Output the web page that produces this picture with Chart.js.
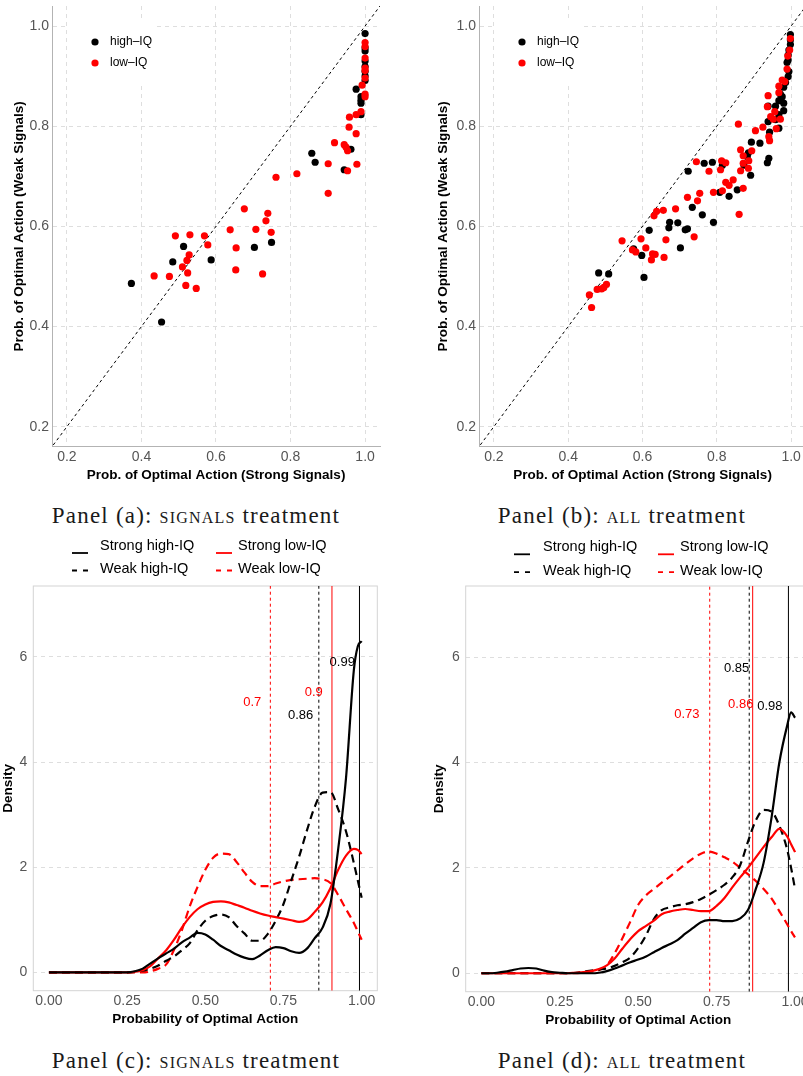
<!DOCTYPE html>
<html>
<head>
<meta charset="utf-8">
<title>Probability of optimal action</title>
<script src="https://cdn.jsdelivr.net/npm/chart.js@4.4.1/dist/chart.umd.min.js"></script>
<style>
  html, body { margin: 0; padding: 0; background: #fff; }
  body { width: 803px; height: 1076px; position: relative; overflow: hidden; }
  .panel { position: absolute; }
  .panel canvas { display: block; }
  .caption { position: absolute; font-family: "Liberation Serif", serif; font-size: 23px; line-height: 23px;
             color: #1a1a1a; white-space: nowrap; transform: translateX(-50%); letter-spacing: 1.2px; }
  .sc { font-variant: small-caps; }
</style>
</head>
<body>
<div class="panel" style="left:0;top:0"><canvas id="panelA" width="395" height="492"></canvas></div>
<div class="panel" style="left:400px;top:0"><canvas id="panelB" width="410" height="492"></canvas></div>
<div class="panel" style="left:0;top:530px"><canvas id="panelC" width="395" height="505"></canvas></div>
<div class="panel" style="left:400px;top:530px"><canvas id="panelD" width="415" height="506"></canvas></div>
<div class="caption" style="left:196px;top:504px">Panel (a): <span class="sc">signals</span> treatment</div>
<div class="caption" style="left:622px;top:504px">Panel (b): <span class="sc">all</span> treatment</div>
<div class="caption" style="left:196px;top:1049px">Panel (c): <span class="sc">signals</span> treatment</div>
<div class="caption" style="left:622px;top:1049px">Panel (d): <span class="sc">all</span> treatment</div>

<script>
// ---- scatter data: [strong signals, weak signals] per subject ----
const sigHighIQ = [
  [1.0,0.985],[1.0,0.956],[1.0,0.950],[1.0,0.930],[1.0,0.919],[1.0,0.909],[1.0,0.900],[1.0,0.891],
  [0.976,0.874],[0.989,0.859],[0.989,0.852],[0.989,0.846],[0.989,0.823],[0.962,0.754],[0.857,0.746],
  [0.866,0.728],[0.944,0.713],[0.513,0.560],[0.703,0.558],[0.749,0.568],[0.484,0.529],[0.587,0.533],
  [0.373,0.486],[0.454,0.409]
];
const sigLowIQ = [
  [1.0,0.967],[1.0,0.959],[1.0,0.936],[1.0,0.916],[1.0,0.911],[1.0,0.896],[0.992,0.882],[1.0,0.864],
  [1.0,0.859],[0.989,0.829],[0.976,0.823],[0.958,0.818],[0.957,0.798],[0.976,0.785],[0.918,0.767],
  [0.944,0.763],[0.949,0.758],[0.953,0.751],[0.901,0.725],[0.978,0.724],[0.953,0.711],[0.817,0.705],
  [0.761,0.698],[0.901,0.666],[0.676,0.635],[0.739,0.626],[0.734,0.611],[0.638,0.593],[0.707,0.594],
  [0.748,0.588],[0.491,0.581],[0.530,0.583],[0.569,0.581],[0.578,0.563],[0.654,0.557],[0.528,0.543],
  [0.522,0.532],[0.510,0.519],[0.524,0.507],[0.434,0.501],[0.475,0.500],[0.519,0.482],[0.547,0.476],
  [0.653,0.513],[0.725,0.505]
];
const allHighIQ = [
  [0.998,0.983],[0.998,0.972],[0.998,0.963],[0.994,0.952],[0.992,0.942],[0.992,0.932],[0.989,0.927],
  [0.994,0.909],[0.992,0.899],[0.985,0.887],[0.980,0.878],[0.971,0.864],[0.976,0.859],[0.967,0.851],
  [0.980,0.846],[0.958,0.840],[0.938,0.840],[0.980,0.831],[0.967,0.823],[0.938,0.809],[0.958,0.813],
  [0.967,0.796],[0.942,0.788],[0.916,0.766],[0.893,0.768],[0.885,0.747],[0.882,0.739],[0.940,0.736],
  [0.936,0.727],[0.873,0.722],[0.891,0.702],[0.766,0.726],[0.788,0.728],[0.815,0.722],[0.723,0.710],
  [0.808,0.668],[0.833,0.660],[0.855,0.673],[0.734,0.638],[0.761,0.623],[0.791,0.608],[0.673,0.608],
  [0.671,0.597],[0.618,0.592],[0.695,0.607],[0.715,0.593],[0.721,0.595],[0.702,0.557],[0.576,0.555],
  [0.598,0.542],[0.604,0.498],[0.482,0.507],[0.509,0.505]
];
const allLowIQ = [
  [0.998,0.975],[0.996,0.952],[0.991,0.940],[0.989,0.914],[0.976,0.892],[0.983,0.889],[0.967,0.880],
  [0.938,0.861],[0.967,0.867],[0.936,0.839],[0.945,0.819],[0.956,0.829],[0.971,0.814],[0.952,0.814],
  [0.960,0.795],[0.858,0.804],[0.924,0.798],[0.904,0.791],[0.940,0.779],[0.942,0.771],[0.894,0.751],
  [0.864,0.753],[0.871,0.741],[0.886,0.731],[0.813,0.731],[0.824,0.727],[0.871,0.726],[0.745,0.729],
  [0.779,0.710],[0.810,0.713],[0.864,0.711],[0.885,0.716],[0.824,0.688],[0.844,0.693],[0.833,0.682],
  [0.815,0.671],[0.791,0.668],[0.871,0.676],[0.754,0.666],[0.721,0.658],[0.748,0.651],[0.860,0.624],
  [0.689,0.635],[0.656,0.632],[0.638,0.630],[0.631,0.621],[0.739,0.579],[0.663,0.573],[0.596,0.575],
  [0.545,0.571],[0.609,0.557],[0.573,0.553],[0.582,0.549],[0.627,0.545],[0.634,0.544],[0.624,0.533],
  [0.658,0.538],[0.457,0.463],[0.463,0.438],[0.478,0.474],[0.490,0.475],[0.496,0.478],[0.503,0.484]
];
const diagLine = [0, 1.2];   // 45-degree reference line
const scatterTicks = [0.2, 0.4, 0.6, 0.8, 1.0];

// ---- density data ----
const densX = [0,0.025,0.05,0.075,0.1,0.125,0.15,0.175,0.2,0.225,0.25,0.275,0.3,0.325,0.35,0.375,0.4,0.425,
  0.45,0.475,0.5,0.525,0.55,0.575,0.6,0.625,0.65,0.675,0.7,0.725,0.75,0.775,0.8,0.825,0.85,0.875,0.9,0.925,
  0.95,0.975,0.9875,1.0];
const sigStrongHigh = [0,0,0,0,0,0,0,0,0,0,0, 0.02,0.07,0.17,0.27,0.36,0.45,0.57,0.66,0.75,0.72,0.62,0.5,0.42,
  0.34,0.28,0.25,0.32,0.42,0.48,0.46,0.4,0.37,0.45,0.65,0.85,1.3,2.35,3.7,5.75,6.2,6.3];
const sigWeakHigh = [0,0,0,0,0,0,0,0,0,0,0, 0.01,0.03,0.07,0.13,0.22,0.3,0.42,0.55,0.8,0.98,1.07,1.1,1.05,
  0.88,0.74,0.6,0.6,0.73,0.98,1.3,1.75,2.2,2.7,3.15,3.42,3.43,3.1,2.68,2.08,1.75,1.42];
const sigStrongLow = [0,0,0,0,0,0,0,0,0,0,0, 0.01,0.04,0.12,0.27,0.42,0.62,0.85,1.05,1.2,1.29,1.34,1.35,1.33,
  1.28,1.23,1.17,1.12,1.08,1.05,1.02,0.99,0.96,1.0,1.15,1.33,1.6,1.95,2.22,2.35,2.33,2.25];
const sigWeakLow = [0,0,0,0,0,0,0,0,0,0,0, 0,0,0.02,0.07,0.15,0.43,0.8,1.25,1.62,1.95,2.18,2.26,2.25,
  2.1,1.9,1.72,1.64,1.64,1.69,1.73,1.76,1.77,1.78,1.79,1.77,1.7,1.47,1.2,0.94,0.78,0.62];
const allStrongHigh = [0,0,0.01,0.03,0.06,0.09,0.1,0.09,0.05,0.02,0.01, 0,0,0,0,0.01,0.04,0.09,0.15,0.21,0.26,
  0.32,0.4,0.48,0.55,0.63,0.75,0.86,0.97,1.01,1.01,0.99,0.99,1.04,1.2,1.6,2.1,2.95,4.0,4.7,4.95,4.85];
const allWeakHigh = [0,0,0,0,0,0,0,0,0,0,0, 0,0.01,0.03,0.05,0.07,0.09,0.14,0.21,0.3,0.48,0.72,1.03,1.2,
  1.25,1.29,1.31,1.35,1.41,1.49,1.58,1.68,1.82,2.05,2.5,2.9,3.1,3.07,2.8,2.35,2.0,1.6];
const allStrongLow = [0,0,0,0,0,0,0,0,0,0,0, 0,0.01,0.02,0.04,0.08,0.15,0.28,0.47,0.65,0.8,0.9,1.0,1.12,
  1.17,1.2,1.22,1.2,1.18,1.18,1.28,1.43,1.63,1.82,2.0,2.2,2.4,2.58,2.74,2.6,2.45,2.3];
const allWeakLow = [0,0,0,0,0,0,0,0,0,0,0, 0,0,0.01,0.03,0.06,0.15,0.38,0.67,0.98,1.3,1.48,1.6,1.72,
  1.83,1.95,2.07,2.18,2.27,2.31,2.27,2.2,2.12,2.0,1.88,1.75,1.6,1.42,1.18,0.93,0.8,0.68];

// means, order: weak low, weak high, strong low, strong high
const sigMeans = [0.708, 0.863, 0.905, 0.993];
const sigMeanText = ['0.7', '0.86', '0.9', '0.99'];
const sigMeanLabelX = [0.650, 0.805, 0.847, 0.938];
const sigMeanLabelY = [5.13, 4.89, 5.32, 5.90];
const allMeans = [0.728, 0.854, 0.865, 0.979];
const allMeanText = ['0.73', '0.85', '0.86', '0.98'];
const allMeanLabelX = [0.655, 0.814, 0.827, 0.920];
const allMeanLabelY = [4.92, 5.79, 5.11, 5.06];

const densXTicks = [0, 0.25, 0.5, 0.75, 1.0];
const densYTicks = [0, 2, 4, 6];

const RED = '#ff0000';
const BLACK = '#000000';
const GRID = '#dedede';
const TITLE_FONT = { size: 13.5, weight: 'bold' };

Chart.defaults.font.family = '"Liberation Sans", Arial, sans-serif';
Chart.defaults.color = '#4d4d4d';

function fixedTicks(vals) {
  return scale => { scale.ticks = vals.map(v => ({ value: v })); };
}
function toPoints(pairs) {
  return pairs.map(p => ({ x: p[0], y: p[1] }));
}
// force the scale box size and drop the label overhang chart.js reserves
function fixedHeight(h) {
  return s => { s.height = h; s.paddingLeft = 0; s.paddingRight = 0; };
}
function fixedWidth(w) {
  return s => { s.width = w; s.paddingTop = 0; s.paddingBottom = 0; };
}

// white legend box with dots in the scatter panels
const scatterLegend = {
  id: 'scatterLegend',
  beforeDatasetsDraw(chart) {
    const { ctx, chartArea: a } = chart;
    ctx.save();
    ctx.fillStyle = '#fff';
    ctx.fillRect(a.left + 15, a.top + 12, 90, 64);
    ctx.restore();
  },
  afterDatasetsDraw(chart, args, opts) {
    const { ctx, chartArea: a } = chart;
    ctx.save();
    opts.items.forEach((it, i) => {
      const x = a.left + 43, y = a.top + 36 + i * 21;
      ctx.beginPath();
      ctx.arc(x, y, 3.6, 0, Math.PI * 2);
      ctx.fillStyle = it.color;
      ctx.fill();
      ctx.fillStyle = '#000';
      ctx.font = '12px "Liberation Sans", Arial, sans-serif';
      ctx.textBaseline = 'middle';
      ctx.textAlign = 'left';
      ctx.fillText(it.text, x + 15, y);
    });
    ctx.restore();
  }
};

function scatterChart(id, high, low, pad, yWidth) {
  return new Chart(document.getElementById(id), {
    type: 'scatter',
    data: {
      datasets: [
        { label: 'low–IQ', data: toPoints(low), backgroundColor: RED, pointRadius: 3.6, borderWidth: 0 },
        { label: 'high–IQ', data: toPoints(high), backgroundColor: BLACK, pointRadius: 3.6, borderWidth: 0 },
        { label: 'diagonal', type: 'line', data: diagLine.map(v => ({ x: v, y: v })),
          borderColor: BLACK, borderWidth: 1, borderDash: [3, 3], pointRadius: 0, showLine: true }
      ]
    },
    options: {
      responsive: false,
      animation: false,
      events: [],
      layout: { padding: pad },
      scales: {
        x: {
          type: 'linear', min: 0.16, max: 1.04,
          afterBuildTicks: fixedTicks(scatterTicks),
          afterFit: fixedHeight(40.4),
          grid: { color: GRID, drawTicks: false },
          border: { display: true, color: '#b3b3b3', width: 1, dash: [4, 4] },
          ticks: { padding: 2, font: { size: 14 }, color: '#555', callback: v => v.toFixed(1) },
          title: { display: true, text: 'Prob. of Optimal Action (Strong Signals)', color: '#000',
                   font: TITLE_FONT, padding: { top: 4, bottom: 4 } }
        },
        y: {
          type: 'linear', min: 0.16, max: 1.04,
          afterBuildTicks: fixedTicks(scatterTicks),
          afterFit: fixedWidth(yWidth),
          grid: { color: GRID, drawTicks: false },
          border: { display: true, color: '#b3b3b3', width: 1, dash: [4, 4] },
          ticks: { padding: 3, font: { size: 14 }, color: '#555', callback: v => v.toFixed(1) },
          title: { display: true, text: 'Prob. of Optimal Action (Weak Signals)', color: '#000',
                   font: TITLE_FONT, padding: { top: 4, bottom: 4 } }
        }
      },
      plugins: {
        legend: { display: false },
        tooltip: { enabled: false },
        scatterLegend: { items: [{ text: 'high–IQ', color: BLACK }, { text: 'low–IQ', color: RED }] }
      }
    },
    plugins: [scatterLegend]
  });
}

// panel border, mean labels and the two-row legend of the density panels
const densityDecor = {
  id: 'densityDecor',
  beforeDatasetsDraw(chart) {
    const { ctx, chartArea: a } = chart;
    ctx.save();
    ctx.strokeStyle = '#d4d4d4';
    ctx.lineWidth = 1;
    ctx.strokeRect(a.left, a.top, a.right - a.left, a.bottom - a.top);
    ctx.restore();
  },
  afterDraw(chart, args, opts) {
    const { ctx } = chart;
    const xs = chart.scales.x, ys = chart.scales.y;
    ctx.save();
    ctx.font = '13px "Liberation Sans", Arial, sans-serif';
    ctx.textAlign = 'center';
    ctx.textBaseline = 'middle';
    opts.labels.forEach(l => {
      ctx.fillStyle = l.color;
      ctx.fillText(l.text, xs.getPixelForValue(l.x), ys.getPixelForValue(l.y));
    });
    // legend
    const lg = opts.legend;
    ctx.font = '14.5px "Liberation Sans", Arial, sans-serif';
    ctx.textAlign = 'left';
    lg.items.forEach((it, i) => {
      const col = i % 2, row = Math.floor(i / 2);
      const y = lg.rowY[row];
      const ky = y + lg.keyOffset[row];
      ctx.beginPath();
      ctx.setLineDash(it.dash.length ? [5, 6] : []);
      ctx.strokeStyle = it.color;
      ctx.lineWidth = 1.8;
      ctx.moveTo(lg.keyX[col], ky);
      ctx.lineTo(lg.keyX[col] + 16, ky);
      ctx.stroke();
      ctx.setLineDash([]);
      ctx.fillStyle = '#000';
      ctx.fillText(it.text, lg.textX[col], y);
    });
    ctx.restore();
  }
};

function densityChart(id, series, means, meanText, labX, labY, pad, yWidth, legendPos) {
  const curves = [
    { label: 'Strong high-IQ', ys: series.strongHigh, color: BLACK, dash: [] },
    { label: 'Strong low-IQ', ys: series.strongLow, color: RED, dash: [] },
    { label: 'Weak high-IQ', ys: series.weakHigh, color: BLACK, dash: [8, 5] },
    { label: 'Weak low-IQ', ys: series.weakLow, color: RED, dash: [8, 5] }
  ];
  const meanColor = [RED, BLACK, RED, BLACK];
  const meanDash = [[3, 3], [3, 3], [], []];

  const datasets = curves.map(c => ({
    label: c.label,
    data: densX.map((x, i) => ({ x: x, y: c.ys[i] })),
    borderColor: c.color, borderWidth: 2.2, borderDash: c.dash,
    pointRadius: 0, showLine: true, cubicInterpolationMode: 'monotone', fill: false
  }));
  means.forEach((m, i) => {
    datasets.push({
      label: 'mean ' + meanText[i],
      data: [{ x: m, y: -0.35 }, { x: m, y: 7.35 }],
      borderColor: meanColor[i], borderWidth: 1, borderDash: meanDash[i],
      pointRadius: 0, showLine: true
    });
  });

  return new Chart(document.getElementById(id), {
    type: 'scatter',
    data: { datasets: datasets },
    options: {
      responsive: false,
      animation: false,
      events: [],
      layout: { padding: pad },
      scales: {
        x: {
          type: 'linear', min: -0.05, max: 1.05,
          afterBuildTicks: fixedTicks(densXTicks),
          afterFit: fixedHeight(40.4),
          grid: { display: false, drawTicks: false },
          border: { display: false },
          ticks: { padding: 2, font: { size: 14 }, color: '#555', callback: v => v.toFixed(2) },
          title: { display: true, text: 'Probability of Optimal Action', color: '#000',
                   font: TITLE_FONT, padding: { top: 4, bottom: 4 } }
        },
        y: {
          type: 'linear', min: -0.35, max: 7.35,
          afterBuildTicks: fixedTicks(densYTicks),
          afterFit: fixedWidth(yWidth),
          grid: { color: GRID, drawTicks: false },
          border: { display: false, dash: [4, 4] },
          ticks: { padding: 6, font: { size: 14 }, color: '#555', callback: v => String(v) },
          title: { display: true, text: 'Density', color: '#000',
                   font: TITLE_FONT, padding: { top: 0, bottom: 4 } }
        }
      },
      plugins: {
        legend: { display: false },
        tooltip: { enabled: false },
        densityDecor: {
          labels: means.map((m, i) => ({ text: meanText[i], x: labX[i], y: labY[i], color: meanColor[i] })),
          legend: Object.assign({ items: curves.map(c => ({ text: c.label, color: c.color, dash: c.dash })) }, legendPos)
        }
      }
    },
    plugins: [densityDecor]
  });
}

scatterChart('panelA', sigHighIQ, sigLowIQ, { left: 7, right: 15, top: 6, bottom: 4.9 }, 45);
scatterChart('panelB', allHighIQ, allLowIQ, { left: 31, right: 3, top: 6, bottom: 4.9 }, 48);

densityChart('panelC',
  { strongHigh: sigStrongHigh, strongLow: sigStrongLow, weakHigh: sigWeakHigh, weakLow: sigWeakLow },
  sigMeans, sigMeanText, sigMeanLabelX, sigMeanLabelY,
  { left: 0, right: 17.7, top: 56, bottom: 3.9 }, 33.3,
  { keyX: [72, 216], textX: [100, 238], rowY: [16, 39], keyOffset: [7, 1.5] });

densityChart('panelD',
  { strongHigh: allStrongHigh, strongLow: allStrongLow, weakHigh: allWeakHigh, weakLow: allWeakLow },
  allMeans, allMeanText, allMeanLabelX, allMeanLabelY,
  { left: 31, right: 4.3, top: 56, bottom: 3.9 }, 34.7,
  { keyX: [114, 258], textX: [143, 280], rowY: [17.3, 40.7], keyOffset: [7, 1.5] });
</script>
</body>
</html>
